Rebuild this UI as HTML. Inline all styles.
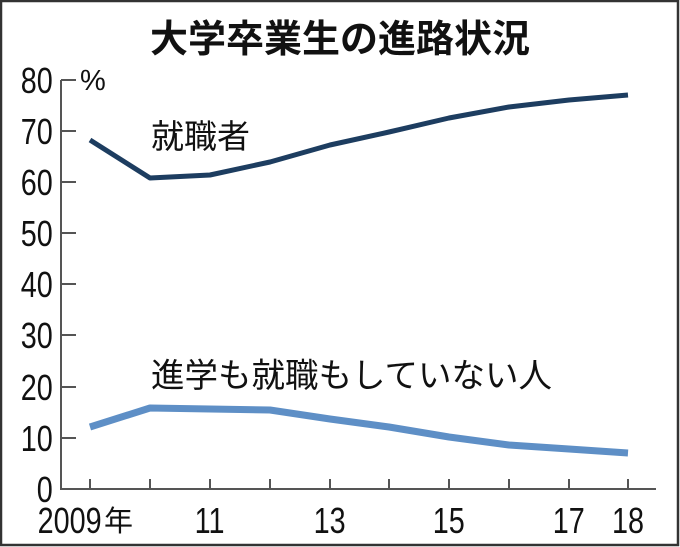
<!DOCTYPE html>
<html><head><meta charset="utf-8"><style>
html,body{margin:0;padding:0;background:#fff}
svg{display:block}
text{font-family:"Liberation Sans","Noto Sans CJK JP",sans-serif;fill:#111}
</style></head><body>
<svg width="680" height="547" viewBox="0 0 680 547">
<rect x="1" y="1" width="677" height="544" fill="#fff" stroke="#333" stroke-width="2.5"/>
<text x="340" y="52" font-size="38" font-weight="bold" text-anchor="middle" style="font-family:'Noto Sans CJK JP',sans-serif">大学卒業生の進路状況</text>
<g stroke="#555" stroke-width="2" fill="none">
<path d="M61 80V489H656"/>
<path d="M61 80H76M61 131H76M61 182H76M61 233H76M61 284H76M61 335H76M61 387H76M61 438H76"/>
<path d="M90 489V479M150 489V479M210 489V479M270 489V479M330 489V479M389 489V479M449 489V479M509 489V479M569 489V479M628 489V479"/>
</g>
<g font-size="36" text-anchor="end" transform="scale(0.8,1)">
<text x="66" y="93">80</text><text x="66" y="144">70</text><text x="66" y="195">60</text><text x="66" y="246">50</text><text x="66" y="297">40</text><text x="66" y="348">30</text><text x="66" y="400">20</text><text x="66" y="451">10</text><text x="66" y="502">0</text>
</g>
<text x="80" y="90" font-size="29">%</text>
<g font-size="36" text-anchor="middle" transform="scale(0.8,1)">
<text x="87" y="533">2009</text><text x="262" y="533">11</text><text x="412" y="533">13</text><text x="561" y="533">15</text><text x="711" y="533">17</text><text x="785" y="533">18</text>
</g>
<text x="104" y="531" font-size="29" style="font-family:'Noto Sans CJK JP',sans-serif">年</text>
<polyline fill="none" stroke="#1d3d60" stroke-width="5" stroke-linejoin="round" points="90,140 150,178 210,175 270,162 330,145 389,132 449,118 509,107 569,100 628,95"/>
<polyline fill="none" stroke="#5e8fc6" stroke-width="7" stroke-linejoin="round" points="90,427 150,408 210,409 270,410 330,419 389,427 449,437 509,445 569,449 628,453"/>
<text x="151" y="148" font-size="33" style="font-family:'Noto Sans CJK JP',sans-serif">就職者</text>
<text x="151" y="387" font-size="33.5" style="font-family:'Noto Sans CJK JP',sans-serif">進学も就職もしていない人</text>
</svg>
</body></html>
